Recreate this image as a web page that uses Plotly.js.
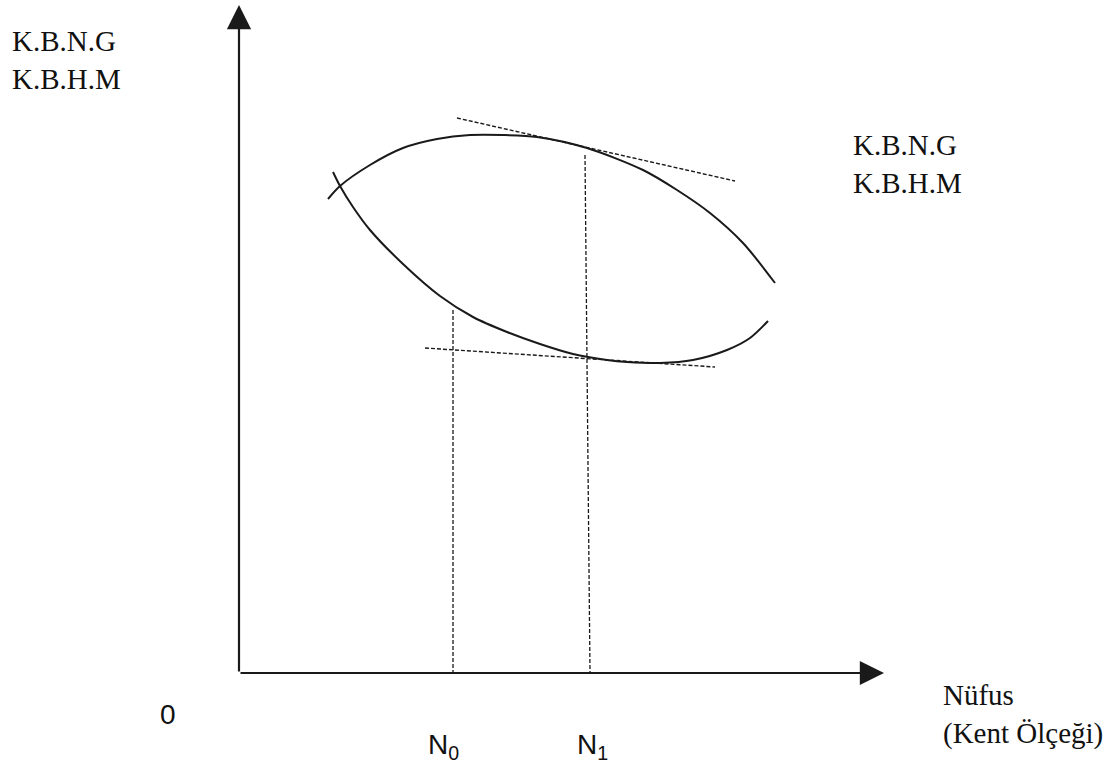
<!DOCTYPE html>
<html>
<head>
<meta charset="utf-8">
<script src="https://cdn.plot.ly/plotly-3.0.1.min.js"></script>
<style>html,body{margin:0;padding:0;background:#fff;}#chart{width:1117px;height:767px;}</style>
</head>
<body>
<div id="chart"></div>
<script>
// Schematic units: origin at the axes corner
// Upper curve (K.B.N.G)
const upperX = [89, 101, 131, 164, 198, 231, 264, 298, 348, 404, 438, 471, 504, 536];
const upperY = [474, 487, 508, 525, 534, 538, 538, 536, 525, 503, 483, 460, 430, 390];
// Lower curve (K.B.H.M)
const lowerX = [94, 101, 114, 131, 164, 201, 234, 268, 301, 334, 368, 388, 421, 454, 488, 511, 529];
const lowerY = [501, 487, 466, 443, 409, 377, 356, 341, 329, 319, 313, 311, 310, 313, 323, 335, 352];
// Tangent lines
const tangentUpperX = [218, 496];
const tangentUpperY = [555, 492];
const tangentLowerX = [186, 476];
const tangentLowerY = [325, 306];
// Population levels
const nLabels = ['N<sub>0</sub>', 'N<sub>1</sub>'];
const nBottomX = [214, 351];
const nTopX = [214, 346];
const nTopY = [363, 518];
// Axis extents
const xAxisEnd = 645;
const yAxisEnd = 668;
const yLabel = 'K.B.N.G<br>K.B.H.M';
const curveLabel = 'K.B.N.G<br>K.B.H.M';
const xLabel = 'Nüfus<br>(Kent Ölçeği)';
const originLabel = '0';

const ink = '#1a1a1a';
const traces = [];
traces.push({x: upperX, y: upperY, mode: 'lines', line: {shape: 'spline', smoothing: 0.8, color: ink, width: 2}, hoverinfo: 'skip'});
traces.push({x: lowerX, y: lowerY, mode: 'lines', line: {shape: 'spline', smoothing: 0.8, color: ink, width: 2}, hoverinfo: 'skip'});
traces.push({x: tangentUpperX, y: tangentUpperY, mode: 'lines', line: {color: ink, width: 1.4, dash: '4px,2px'}, hoverinfo: 'skip'});
traces.push({x: tangentLowerX, y: tangentLowerY, mode: 'lines', line: {color: ink, width: 1.4, dash: '4px,2px'}, hoverinfo: 'skip'});
for (let i = 0; i < nBottomX.length; i++) {
  traces.push({x: [nTopX[i], nBottomX[i]], y: [nTopY[i], 0], mode: 'lines', line: {color: ink, width: 1.3, dash: '4px,2px'}, hoverinfo: 'skip'});
}

const serif = {family: '"Liberation Serif", "Times New Roman", serif', size: 29, color: '#111'};
const sans = {family: '"Liberation Sans", Arial, sans-serif', size: 28, color: '#111'};

const annotations = [
  {x: 0, y: yAxisEnd, ax: 0, ay: 0, xref: 'x', yref: 'y', axref: 'x', ayref: 'y', showarrow: true, arrowhead: 2, arrowsize: 2.2, arrowwidth: 2.2, arrowcolor: ink, text: ''},
  {x: xAxisEnd, y: 0, ax: 0, ay: 0, xref: 'x', yref: 'y', axref: 'x', ayref: 'y', showarrow: true, arrowhead: 2, arrowsize: 2.2, arrowwidth: 2.2, arrowcolor: ink, text: ''},
  {x: -229, y: 650, xref: 'x', yref: 'y', xanchor: 'left', yanchor: 'top', align: 'left', showarrow: false, text: yLabel, font: serif},
  {x: 612, y: 546, xref: 'x', yref: 'y', xanchor: 'left', yanchor: 'top', align: 'left', showarrow: false, text: curveLabel, font: serif},
  {x: 702, y: -4, xref: 'x', yref: 'y', xanchor: 'left', yanchor: 'top', align: 'left', showarrow: false, text: xLabel, font: serif},
  {x: -71, y: -41, xref: 'x', yref: 'y', xanchor: 'center', yanchor: 'middle', showarrow: false, text: originLabel, font: sans}
];
const nShift = [-10, 2];
for (let i = 0; i < nLabels.length; i++) {
  annotations.push({x: nBottomX[i], y: -73, xref: 'x', yref: 'y', xanchor: 'center', yanchor: 'middle', xshift: nShift[i], showarrow: false, text: nLabels[i], font: sans});
}

const layout = {
  width: 1117, height: 767,
  margin: {l: 0, r: 0, t: 0, b: 0},
  paper_bgcolor: '#fff', plot_bgcolor: '#fff',
  showlegend: false,
  xaxis: {range: [-239, 878], visible: false, fixedrange: true},
  yaxis: {range: [-94, 673], visible: false, fixedrange: true},
  annotations: annotations
};
Plotly.newPlot('chart', traces, layout, {staticPlot: true, displayModeBar: false});
</script>
</body>
</html>
